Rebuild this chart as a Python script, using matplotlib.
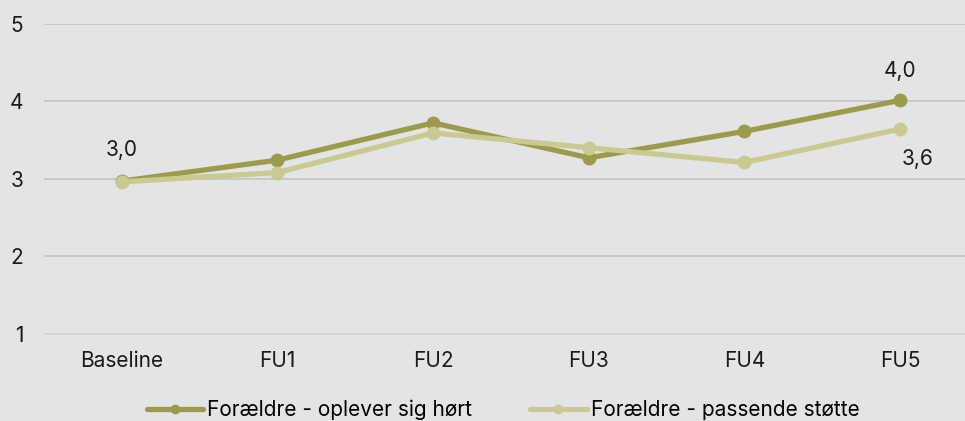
import matplotlib
matplotlib.use("Agg")
import matplotlib.pyplot as plt

plt.rcParams['font.family'] = ['Inter', 'DejaVu Sans']

categories = ["Baseline", "FU1", "FU2", "FU3", "FU4", "FU5"]
hoert = [2.97, 3.24, 3.72, 3.27, 3.61, 4.01]
stoette = [2.96, 3.08, 3.59, 3.40, 3.21, 3.64]
series_names = ["Forældre - oplever sig hørt", "Forældre - passende støtte"]

bg = "#e3e4e6"
dark = "#9c9b4b"
light = "#c9ca91"
txt = "#1a1a1a"
fs = 15

fig = plt.figure(figsize=(9.65, 4.21), dpi=100, facecolor=bg)
ax = fig.add_axes([44 / 965, 1 - 334 / 421, 1 - 44 / 965, (334 - 23.5) / 421])
ax.set_facecolor(bg)

x = list(range(len(categories)))
ax.plot(x, hoert, color=dark, lw=3.8, marker="o", ms=9, label=series_names[0],
        solid_capstyle="round", zorder=3)
ax.plot(x, stoette, color=light, lw=3.8, marker="o", ms=9, label=series_names[1],
        solid_capstyle="round", zorder=4)

# data labels
ax.annotate("3,0", (0, hoert[0]), xytext=(0, 15), textcoords="offset points",
            ha="center", va="bottom", fontsize=fs, color=txt)
ax.annotate("4,0", (5, hoert[5]), xytext=(0, 14), textcoords="offset points",
            ha="center", va="bottom", fontsize=fs, color=txt)
ax.annotate("3,6", (5, stoette[5]), xytext=(13, -14), textcoords="offset points",
            ha="center", va="top", fontsize=fs, color=txt)

ax.set_ylim(1, 5)
ax.set_xlim(-0.5, (965 - 122) / 155.6)
ax.set_yticks([1, 2, 3, 4, 5])
ax.set_xticks(x)
ax.set_xticklabels(categories)
ax.yaxis.grid(True, color="#c6c6c6", lw=1.3)
ax.set_axisbelow(True)
for s in ["top", "right", "left"]:
    ax.spines[s].set_visible(False)
ax.spines["bottom"].set_color("#d6d6d6")
ax.spines["bottom"].set_linewidth(1.3)
ax.tick_params(axis="both", length=0, labelsize=fs, colors=txt)
ax.tick_params(axis="y", pad=15)
ax.tick_params(axis="x", pad=12)

leg = fig.legend(loc="center", bbox_to_anchor=(503 / 965, 1 - 410 / 421), ncol=2,
                 frameon=False, fontsize=fs, handlelength=2.7, handletextpad=0.2,
                 columnspacing=2.8)
for line in leg.get_lines():
    line.set_markersize(6)

fig.savefig("out.png", dpi=100, facecolor=bg)
